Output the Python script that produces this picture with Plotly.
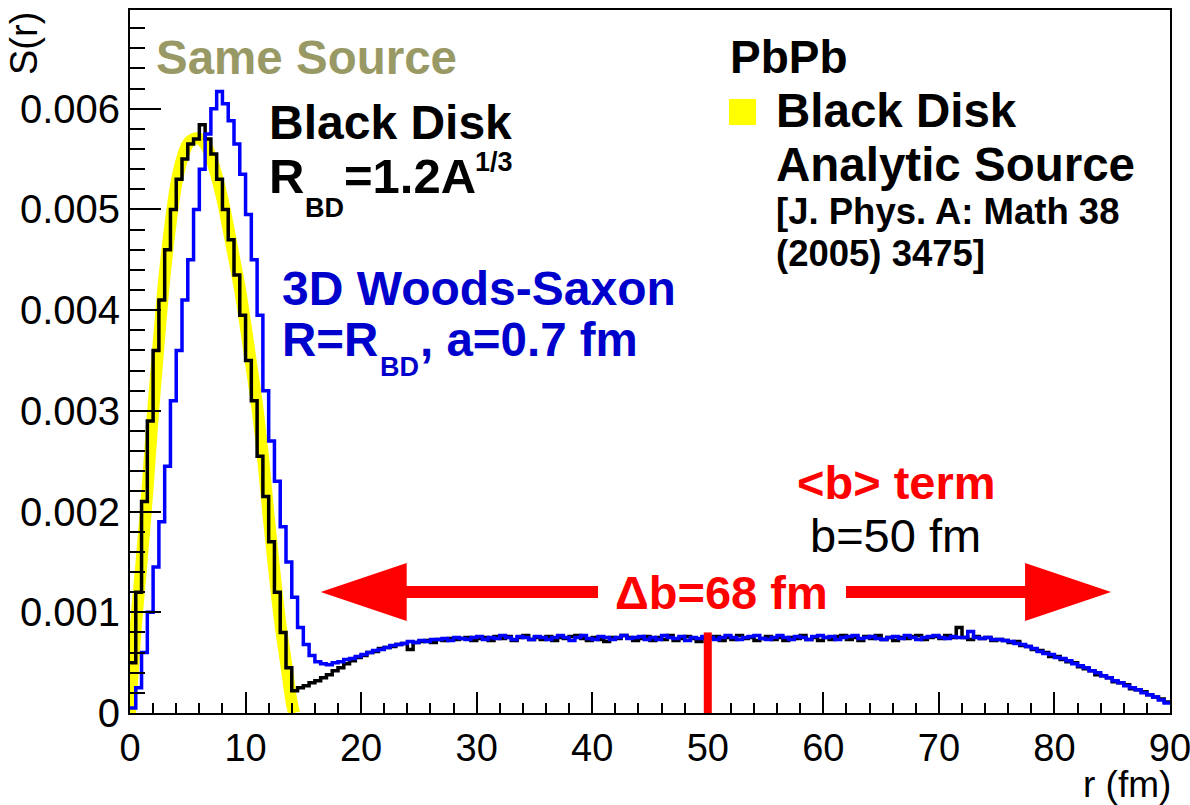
import numpy as np
import plotly.graph_objects as go

# ---------------------------------------------------------------- data
BIN_WIDTH = 0.5          # fm, histogram bin width
R_MAX = 90.0             # fm
Y_MAX = 0.00698
B_MEAN = 50.0            # <b> term, fm
B_SPREAD = 68.0          # Δb, fm

# Monte Carlo black-disk source S(r), units of 1e-4, one value per 0.5 fm bin
black_e4 = [
    5.0, 12.0, 21.0, 29.0, 36.0, 41.0, 46.0, 50.0, 53.0, 55.0,
    56.5, 57.0, 58.4, 57.0, 55.5, 53.0, 50.0, 47.0, 43.5, 39.5,
    35.0, 31.0, 25.5, 21.5, 17.0, 12.0, 8.0, 4.5, 2.2, 2.5,
    2.7, 3.0, 3.2, 3.5, 3.8, 4.2, 4.5, 4.9, 5.2, 5.5,
    5.7, 6.0, 6.1, 6.4, 6.5, 6.6, 6.8, 6.9, 6.3, 7.0,
    7.1, 7.2, 7.0, 7.3, 7.2, 7.4, 7.3, 7.4, 7.5, 7.2,
    7.4, 7.5, 7.2, 7.6, 7.4, 7.6, 7.2, 7.5, 7.7, 7.3,
    7.5, 7.3, 7.6, 7.2, 7.5, 7.4, 7.6, 7.7, 7.4, 7.2,
    7.5, 7.3, 7.1, 7.5, 7.4, 7.7, 7.5, 7.2, 7.4, 7.6,
    7.2, 7.5, 7.3, 7.7, 7.2, 7.4, 7.6, 7.4, 7.1, 7.5,
    7.4, 7.6, 7.2, 7.5, 7.3, 7.7, 7.4, 7.5, 7.2, 7.4,
    7.6, 7.3, 7.5, 7.2, 7.5, 7.4, 7.7, 7.3, 7.5, 7.2,
    7.5, 7.3, 7.6, 7.7, 7.3, 7.5, 7.2, 7.6, 7.4, 7.7,
    7.3, 7.5, 7.2, 7.5, 7.4, 7.6, 7.7, 7.3, 7.5, 7.6,
    7.4, 7.7, 7.5, 8.5, 7.5, 7.3, 7.6, 7.4, 7.5, 7.2,
    7.3, 7.2, 7.0, 7.1, 6.7, 6.6, 6.3, 6.2, 6.0, 5.6,
    5.6, 5.3, 5.1, 5.0, 4.6, 4.4, 4.2, 3.8, 3.7, 3.5,
    3.1, 3.0, 2.8, 2.4, 2.3, 2.1, 1.8, 1.6, 1.4, 1.1,
]

# 3D Woods-Saxon source S(r), units of 1e-4, one value per 0.5 fm bin
woods_saxon_e4 = [
    0.5, 2.5, 6.0, 10.0, 14.5, 19.0, 24.5, 31.0, 36.0, 41.0,
    45.0, 50.0, 54.0, 57.5, 60.0, 61.7, 60.5, 58.8, 56.5, 53.5,
    49.5, 45.0, 39.5, 32.0, 27.0, 23.0, 18.5, 15.0, 11.5, 8.5,
    6.8, 5.7, 5.1, 4.9, 4.8, 5.0, 5.1, 5.3, 5.4, 5.6,
    5.8, 6.0, 6.2, 6.3, 6.5, 6.7, 6.8, 6.9, 7.1, 7.0,
    7.2, 7.1, 7.3, 7.3, 7.4, 7.2, 7.5, 7.4, 7.3, 7.5,
    7.6, 7.3, 7.5, 7.4, 7.7, 7.5, 7.3, 7.6, 7.5, 7.3,
    7.6, 7.5, 7.3, 7.5, 7.7, 7.5, 7.2, 7.5, 7.7, 7.4,
    7.3, 7.6, 7.5, 7.3, 7.5, 7.7, 7.4, 7.5, 7.6, 7.3,
    7.5, 7.3, 7.7, 7.5, 7.4, 7.6, 7.2, 7.5, 7.4, 7.6,
    7.5, 7.3, 7.5, 7.7, 7.5, 7.3, 7.5, 7.6, 7.7, 7.4,
    7.3, 7.5, 7.7, 7.5, 7.3, 7.6, 7.5, 7.3, 7.6, 7.7,
    7.5, 7.6, 7.3, 7.5, 7.6, 7.7, 7.4, 7.5, 7.6, 7.4,
    7.3, 7.5, 7.6, 7.4, 7.7, 7.5, 7.3, 7.5, 7.6, 7.7,
    7.5, 7.4, 7.6, 7.5, 7.5, 8.1, 7.5, 7.4, 7.5, 7.3,
    7.3, 7.2, 7.1, 6.9, 6.8, 6.6, 6.4, 6.1, 5.9, 5.8,
    5.5, 5.4, 5.2, 4.9, 4.7, 4.5, 4.2, 4.0, 3.7, 3.5,
    3.2, 3.0, 2.7, 2.5, 2.3, 2.0, 1.8, 1.6, 1.3, 1.0,
]

# Analytic black-disk source, sampled along r (fm) in units of 1e-4
analytic_r = [0, 0.5, 1, 1.5, 2, 2.5, 3, 3.5, 4, 4.5, 5, 5.5, 6, 6.5, 7,
              7.5, 8, 8.5, 9, 9.5, 10, 10.5, 11, 11.5, 12, 12.5, 13, 13.5,
              14, 14.2]
analytic_e4 = [0, 8.5, 15, 22, 30, 37, 43.5, 48.5, 52.5, 55, 56.5, 57, 57,
               56.5, 55.2, 53.3, 51, 48.2, 45.2, 42.2, 38.5, 34.5, 30.5,
               25.5, 19.5, 14, 9, 5, 1, 0]

y_tick_vals = [0, 0.001, 0.002, 0.003, 0.004, 0.005, 0.006]
y_tick_text = ["0", "0.001", "0.002", "0.003", "0.004", "0.005", "0.006"]
x_tick_vals = [0, 10, 20, 30, 40, 50, 60, 70, 80, 90]

# ---------------------------------------------------------------- layout helpers
W, H = 1190, 805
PL, PR, PT, PB = 130, 1170, 10, 713       # plot-area edges in pixels
FONT = "Liberation Sans, Arial, Helvetica, sans-serif"


def dx(px):
    return (px - PL) / (PR - PL) * R_MAX


def dy(py):
    return (PB - py) / (PB - PT) * Y_MAX


def steps(values):
    v = np.asarray(values) * 1e-4
    return np.append(v, v[-1])


edges = np.arange(len(black_e4) + 1) * BIN_WIDTH

fig = go.Figure()

fig.add_trace(go.Scatter(
    x=analytic_r, y=np.asarray(analytic_e4) * 1e-4, mode="lines",
    line=dict(color="#ffff00", width=12, shape="spline"),
    hoverinfo="skip", showlegend=False))

fig.add_trace(go.Scatter(
    x=edges, y=steps(black_e4), mode="lines",
    line=dict(color="#000000", width=3.5, shape="hv"),
    hoverinfo="skip", showlegend=False))

fig.add_trace(go.Scatter(
    x=edges, y=steps(woods_saxon_e4), mode="lines",
    line=dict(color="#0000ff", width=3.5, shape="hv"),
    hoverinfo="skip", showlegend=False))

# ---------------------------------------------------------------- shapes
shapes = []
# <b> marker on the axis
shapes.append(dict(type="line", xref="x", yref="y", x0=B_MEAN, x1=B_MEAN,
                   y0=0, y1=0.0008, line=dict(color="#ff0000", width=8)))

# Δb double arrow, split around its label
yc = dy(592)
hh = 29 * Y_MAX / (PB - PT)
sh = 6 * Y_MAX / (PB - PT)
x_left_tip, x_right_tip = 16.5, 84.9
head_len = dx(PL + 86)
gap_l, gap_r = dx(598), dx(846)


def arrow_path(tip, base, end):
    return (f"M {tip},{yc} L {base},{yc + hh} L {base},{yc + sh} "
            f"L {end},{yc + sh} L {end},{yc - sh} L {base},{yc - sh} "
            f"L {base},{yc - hh} Z")


shapes.append(dict(type="path", xref="x", yref="y", fillcolor="#ff0000",
                   line=dict(width=0),
                   path=arrow_path(x_left_tip, x_left_tip + head_len, gap_l)))
shapes.append(dict(type="path", xref="x", yref="y", fillcolor="#ff0000",
                   line=dict(width=0),
                   path=arrow_path(x_right_tip, x_right_tip - head_len, gap_r)))

# legend box for the analytic source
shapes.append(dict(type="rect", xref="x", yref="y", x0=dx(729), x1=dx(756),
                   y0=dy(125), y1=dy(99), fillcolor="#ffff00",
                   line=dict(width=0)))

# ---------------------------------------------------------------- text
annotations = []


def label(text, px, py, size, color="#000000", anchor="left", angle=0):
    annotations.append(dict(
        text=text, x=(px - PL) / (PR - PL), y=(PB - py) / (PB - PT),
        xref="paper", yref="paper",
        xanchor=anchor, yanchor="middle", showarrow=False, textangle=angle,
        font=dict(family=FONT, size=size, color=color), borderpad=0))


OLIVE = "#999966"
BLUE_TXT = "#0000cc"
RED = "#ff0000"

label("<b>Same Source</b>", 155, 57, 47.5, OLIVE)

label("<b>Black Disk</b>", 268, 123, 48)
label("<b>R</b>", 268, 176, 49)
label("<b>BD</b>", 304, 208, 27)
label("<b>=1.2A</b>", 343, 176, 49)
label("<b>1/3</b>", 474, 162, 27)

label("<b>3D Woods-Saxon</b>", 281, 288, 48, BLUE_TXT)
label("<b>R=R</b>", 281, 340, 47.5, BLUE_TXT)
label("<b>BD</b>", 379, 367, 27, BLUE_TXT)
label("<b>, a=0.7 fm</b>", 419, 340, 47.5, BLUE_TXT)

label("<b>PbPb</b>", 729, 57, 46)
label("<b>Black Disk</b>", 775, 111, 47.5)
label("<b>Analytic Source</b>", 775, 164, 47.5)
label("<b>[J. Phys. A: Math 38</b>", 775, 212, 36.5)
label("<b>(2005) 3475]</b>", 775, 253, 36.5)

label("<b>&lt;b&gt; term</b>", 896, 482, 47, RED, anchor="center")
label("b=50 fm", 895, 535, 47, anchor="center")
label("<b>Δb=68 fm</b>", 721, 592, 47, RED, anchor="center")

label("r (fm)", 1172, 784, 37, anchor="right")
label("S(r)", 24, 44, 38, angle=-90, anchor="center")

# ---------------------------------------------------------------- axes
axis_common = dict(
    showgrid=False, zeroline=False, showline=True, linecolor="#000000",
    linewidth=2, mirror=True, ticks="inside", tickcolor="#000000",
    tickwidth=2, ticklabeloverflow="allow", automargin=False,
)

fig.update_layout(
    width=W, height=H,
    margin=dict(l=PL, r=W - PR, t=PT, b=H - PB, autoexpand=False),
    paper_bgcolor="#ffffff", plot_bgcolor="#ffffff",
    showlegend=False,
    xaxis=dict(range=[0, R_MAX], tickvals=x_tick_vals, ticklen=21,
               tickfont=dict(family=FONT, size=38, color="#000000"),
               minor=dict(ticks="inside", dtick=2, tick0=0, ticklen=10,
                          tickwidth=2, tickcolor="#000000"),
               ticklabelstandoff=0, **axis_common),
    yaxis=dict(range=[0, Y_MAX], tickvals=y_tick_vals, ticktext=y_tick_text,
               ticklen=31,
               tickfont=dict(family=FONT, size=40, color="#000000"),
               minor=dict(ticks="inside", dtick=0.0002, tick0=0, ticklen=15,
                          tickwidth=2, tickcolor="#000000"),
               ticklabelstandoff=0, **axis_common),
    shapes=shapes,
    annotations=annotations,
)

fig.write_html("out.html")
